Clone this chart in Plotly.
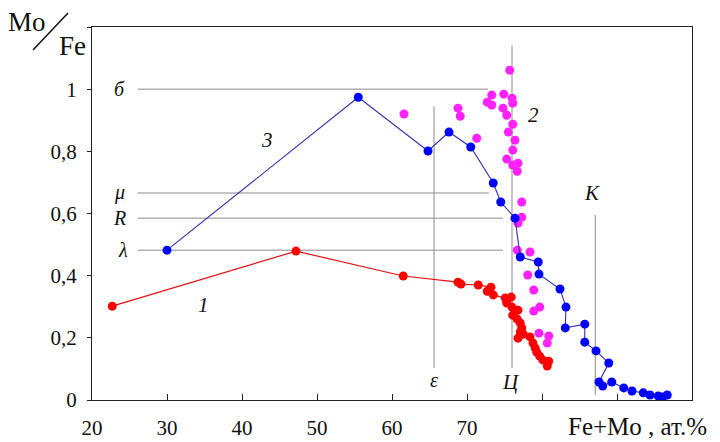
import plotly.graph_objects as go

# ---------------- data ----------------
# Series 1 (red)
s1_x = [22.7, 47.2, 61.5, 68.8, 69.2, 71.5, 73.2, 72.7, 73.5, 75.1, 75.9, 75.3, 76.0, 76.4,
        76.8, 76.1, 76.7, 77.1, 77.3, 77.1, 77.5, 76.8, 78.4, 78.8, 79.1, 79.3, 79.7, 80.1,
        80.9, 80.7]
s1_y = [0.302, 0.479, 0.399, 0.379, 0.373, 0.370, 0.363, 0.350, 0.338, 0.328, 0.331, 0.312,
        0.299, 0.289, 0.289, 0.273, 0.260, 0.248, 0.232, 0.219, 0.212, 0.199, 0.203, 0.183,
        0.167, 0.154, 0.141, 0.129, 0.125, 0.109]

# Series 2 (magenta, points only)
s2_x = [61.6, 68.8, 69.1, 71.3, 72.7, 73.3, 73.3, 74.9, 76.0, 76.1, 74.8, 75.3, 76.1, 75.5,
        76.4, 76.1, 75.3, 76.1, 76.8, 76.7, 75.7, 77.3, 77.3, 76.8, 76.7, 78.4, 78.1, 78.9,
        79.7, 78.9, 79.6, 80.9, 80.7]
s2_y = [0.920, 0.939, 0.913, 0.842, 0.958, 0.981, 0.949, 0.984, 0.971, 0.955, 0.939, 0.916,
        0.887, 0.862, 0.836, 0.804, 0.775, 0.756, 0.762, 0.736, 1.061, 0.637, 0.588, 0.569,
        0.482, 0.476, 0.402, 0.354, 0.299, 0.286, 0.215, 0.206, 0.183]

# Series 3 (blue)
s3_x = [30.0, 55.5, 64.8, 67.6, 70.5, 73.5, 74.5, 76.4, 77.1, 79.5, 79.6, 82.4, 83.2, 83.1,
        85.7, 85.7, 87.2, 88.9, 87.6, 88.1, 89.3, 90.9, 92.0, 93.5, 94.4, 95.5, 96.1, 96.7]
s3_y = [0.482, 0.974, 0.801, 0.862, 0.814, 0.698, 0.637, 0.585, 0.460, 0.444, 0.405, 0.357,
        0.299, 0.232, 0.244, 0.186, 0.158, 0.119, 0.058, 0.045, 0.058, 0.039, 0.029, 0.023,
        0.016, 0.013, 0.010, 0.016]

# Phase levels (horizontal reference lines)
phase_names = ["б", "μ", "R", "λ"]
phase_levels = [1.0, 0.666, 0.585, 0.482]
phase_x0 = [26.1, 26.1, 26.1, 26.1]
phase_x1 = [72.8, 72.9, 74.8, 74.8]

# Vertical reference lines
vert_names = ["ε", "Ц", "K"]
vert_x = [65.6, 76.0, 87.1]
vert_y0 = [0.103, 0.103, 0.016]
vert_y1 = [0.945, 1.14, 0.595]

x_ticks = [20, 30, 40, 50, 60, 70, 80, 90, 100]
x_ticktext = ["20", "30", "40", "50", "60", "70", "", "", ""]
y_ticks = [0, 0.2, 0.4, 0.6, 0.8, 1.0, 1.2]
y_ticktext = ["0", "0,2", "0,4", "0,6", "0,8", "1", ""]

SERIF = "'Liberation Serif', 'Times New Roman', serif"
GRAY = "#8a8a8a"

fig = go.Figure()

fig.add_trace(go.Scatter(x=s2_x, y=s2_y, mode="markers",
                         marker=dict(color="#ff22ff", size=9), hoverinfo="x+y"))
fig.add_trace(go.Scatter(x=s1_x, y=s1_y, mode="lines+markers",
                         line=dict(color="#e01010", width=1.2),
                         marker=dict(color="#ff0000", size=9)))
fig.add_trace(go.Scatter(x=s3_x, y=s3_y, mode="lines+markers",
                         line=dict(color="#2f2fb0", width=1.1),
                         marker=dict(color="#0000ff", size=9)))

shapes = []
for lv, a, b in zip(phase_levels, phase_x0, phase_x1):
    shapes.append(dict(type="line", xref="x", yref="y", x0=a, x1=b, y0=lv, y1=lv,
                       line=dict(color=GRAY, width=1), layer="below"))
for vx, a, b in zip(vert_x, vert_y0, vert_y1):
    shapes.append(dict(type="line", xref="x", yref="y", x0=vx, x1=vx, y0=a, y1=b,
                       line=dict(color=GRAY, width=1), layer="below"))
# slash of the axis title Mo/Fe
shapes.append(dict(type="line", xref="paper", yref="paper",
                   x0=(33 - 92) / 600, y0=(400 - 50) / 373,
                   x1=(68 - 92) / 600, y1=(400 - 13) / 373,
                   line=dict(color="#111", width=1.5)))

ann = []
def add_text(text, x, y, size=20, italic=True, xref="x", yref="y", xanchor="center"):
    t = f"<i>{text}</i>" if italic else text
    ann.append(dict(text=t, x=x, y=y, xref=xref, yref=yref, showarrow=False,
                    xanchor=xanchor, yanchor="middle",
                    font=dict(family=SERIF, size=size, color="#111")))

# phase labels
phase_label_x = [23.7, 23.7, 23.6, 24.1]
for name, lv, lx in zip(phase_names, phase_levels, phase_label_x):
    add_text(name, lx, lv, size=20)
# vertical line labels
add_text("ε", 65.6, 0.064, size=20)
add_text("Ц", 75.9, 0.058, size=21)
add_text("K", 86.7, 0.666, size=21)
# series labels
add_text("1", 34.8, 0.305, size=21)
add_text("2", 78.8, 0.916, size=21)
add_text("3", 43.3, 0.836, size=21)

# axis titles
add_text("Mo", (27 - 92) / 600, (400 - 22) / 373, size=27, italic=False, xref="paper", yref="paper")
add_text("Fe", (72 - 92) / 600, (400 - 46) / 373, size=27, italic=False, xref="paper", yref="paper")
add_text("Fe+Mo , ат.%", (637 - 92) / 600, (400 - 426) / 373, size=25, italic=False,
         xref="paper", yref="paper")

fig.update_layout(
    width=720, height=442,
    margin=dict(l=92, r=28, t=27, b=42, autoexpand=False),
    paper_bgcolor="white", plot_bgcolor="white",
    showlegend=False,
    shapes=shapes, annotations=ann,
    font=dict(family=SERIF, size=19, color="#111"),
    xaxis=dict(range=[20, 100], tickvals=x_ticks, ticktext=x_ticktext,
               ticks="inside", ticklen=6, tickcolor="#222",
               showline=True, linecolor="#222", linewidth=1, mirror=True,
               showgrid=False, zeroline=False, ticklabelstandoff=9, automargin=False,
               tickfont=dict(family=SERIF, size=21, color="#111")),
    yaxis=dict(range=[0, 1.2], tickvals=y_ticks, ticktext=y_ticktext,
               ticks="outside", ticklen=4, tickcolor="#222",
               showline=True, linecolor="#222", linewidth=1, mirror=True,
               showgrid=False, zeroline=False, ticklabelstandoff=6, automargin=False,
               tickfont=dict(family=SERIF, size=21, color="#111")),
)

fig.write_html("out.html")
